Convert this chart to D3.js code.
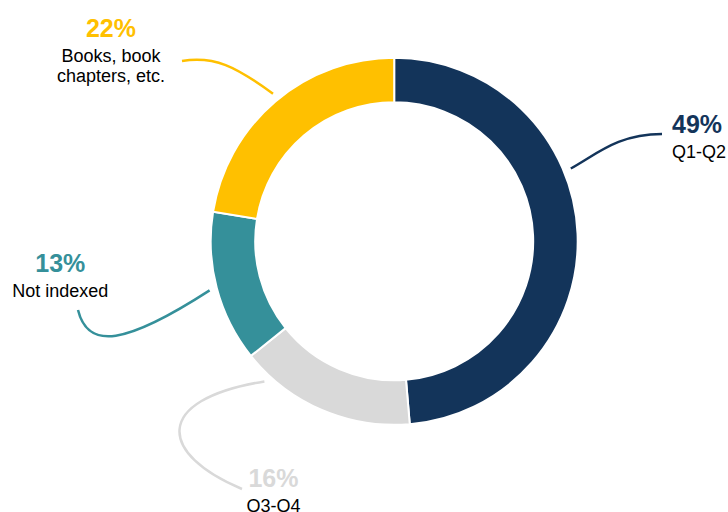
<!DOCTYPE html>
<html>
<head>
<meta charset="utf-8">
<script src="https://cdn.jsdelivr.net/npm/d3@7"></script>
<style>
  html, body { margin: 0; padding: 0; background: #fff; }
  svg { display: block; }
  text { font-family: "Liberation Sans", Arial, sans-serif; }
</style>
</head>
<body>
<svg id="chart" width="728" height="512"></svg>
<script>
// ---- data ----
const categories = ["Q1-Q2", "Q3-Q4", "Not indexed", "Books, book chapters, etc."];
// slice shares as read from the ring (labels show them rounded)
const values = [48.6, 15.6, 13.3, 22.4];
const labelLines = [["Q1-Q2"], ["Q3-Q4"], ["Not indexed"], ["Books, book", "chapters, etc."]];
const colors = ["#13345A", "#D9D9D9", "#35909A", "#FFC000"];

// ---- layout ----
const W = 728, H = 512;
const cx = 394.2, cy = 241.3;
const outerR = 183.5, innerR = 139;
const leaderR = 191;

// label layout: anchor point, text-anchor, leader angle (deg clockwise from top), curve
const layout = [
  { x: 672, y: 133.3, anchor: "start", angle: 67.6,
    curve: (p) => `M${p[0]},${p[1]} C597,154 618,134 662,134` },
  { x: 273.5, y: 487.3, anchor: "middle", angle: 222.8,
    curve: (p) => `M242,489 C160,455 150,400 ${p[0]},${p[1]}` },
  { x: 60.3, y: 271.7, anchor: "middle", angle: 255.1,
    curve: (p) => `M78,310 C88,350 125,345 ${p[0]},${p[1]}` },
  { x: 111, y: 36.7, anchor: "middle", angle: 320.6,
    curve: (p) => `M182,61 C215,56 235,66 ${p[0]},${p[1]}` }
];

const svg = d3.select("#chart");
const g = svg.append("g").attr("transform", `translate(${cx},${cy})`);

const pie = d3.pie().sort(null).value(d => d.value);
const arc = d3.arc().innerRadius(innerR).outerRadius(outerR);

const data = categories.map((c, i) => ({ category: c, value: values[i], color: colors[i], lines: labelLines[i], lay: layout[i] }));
const arcs = pie(data);

g.selectAll("path.slice")
  .data(arcs)
  .join("path")
  .attr("class", "slice")
  .attr("d", arc)
  .attr("fill", d => d.data.color)
  .attr("stroke", "#fff")
  .attr("stroke-width", 2);

// leader lines
const polar = (deg, r) => {
  const a = deg * Math.PI / 180;
  return [cx + r * Math.sin(a), cy - r * Math.cos(a)];
};
svg.selectAll("path.leader")
  .data(data)
  .join("path")
  .attr("class", "leader")
  .attr("d", d => {
    const p = polar(d.lay.angle, leaderR);
    return d.lay.curve([+p[0].toFixed(1), +p[1].toFixed(1)]);
  })
  .attr("fill", "none")
  .attr("stroke", d => d.color)
  .attr("stroke-width", 2.5)
  .attr("stroke-linecap", "butt");

// labels
const lbl = svg.selectAll("g.label")
  .data(data)
  .join("g")
  .attr("class", "label");

lbl.append("text")
  .attr("x", d => d.lay.x)
  .attr("y", d => d.lay.y)
  .attr("text-anchor", d => d.lay.anchor)
  .attr("font-size", 25)
  .attr("font-weight", "bold")
  .attr("fill", d => d.color)
  .text(d => `${Math.round(d.value)}%`);

lbl.each(function(d) {
  const t = d3.select(this).append("text")
    .attr("text-anchor", d.lay.anchor)
    .attr("font-size", 18)
    .attr("fill", "#000");
  d.lines.forEach((line, k) => {
    t.append("tspan")
      .attr("x", d.lay.x)
      .attr("y", d.lay.y + 25 + k * 20)
      .text(line);
  });
});
</script>
</body>
</html>
